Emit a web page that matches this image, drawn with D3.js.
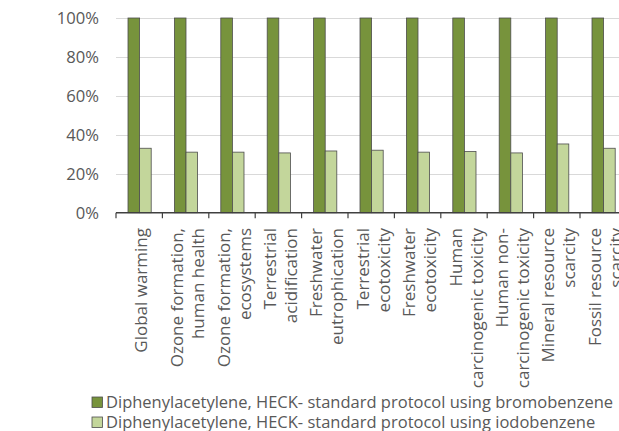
<!DOCTYPE html>
<html>
<head>
<meta charset="utf-8">
<script src="https://cdn.jsdelivr.net/npm/d3@7"></script>
<style>
  body { margin: 0; background: #fff; }
  svg { display: block; font-family: "Open Sans", sans-serif; }
</style>
</head>
<body>
<div id="chart"></div>
<script>
const categories = [
  "Global warming",
  "Ozone formation, human health",
  "Ozone formation, ecosystems",
  "Terrestrial acidification",
  "Freshwater eutrophication",
  "Terrestrial ecotoxicity",
  "Freshwater ecotoxicity",
  "Human carcinogenic toxicity",
  "Human non-carcinogenic toxicity",
  "Mineral resource scarcity",
  "Fossil resource scarcity",
];
const labelLines = [
  ["Global warming"],
  ["Ozone formation,", "human health"],
  ["Ozone formation,", "ecosystems"],
  ["Terrestrial", "acidification"],
  ["Freshwater", "eutrophication"],
  ["Terrestrial", "ecotoxicity"],
  ["Freshwater", "ecotoxicity"],
  ["Human", "carcinogenic toxicity"],
  ["Human non-", "carcinogenic toxicity"],
  ["Mineral resource", "scarcity"],
  ["Fossil resource", "scarcity"],
];
const seriesNames = [
  "Diphenylacetylene, HECK- standard protocol using bromobenzene",
  "Diphenylacetylene, HECK- standard protocol using iodobenzene",
];
const bromobenzene = [100, 100, 100, 100, 100, 100, 100, 100, 100, 100, 100];
const iodobenzene = [33.1, 31.1, 31.1, 30.7, 31.7, 32.1, 31.1, 31.4, 30.7, 35.3, 33.1];
const yTicks = [0, 20, 40, 60, 80, 100];

const colors = ["#77933c", "#c3d69b"];

const width = 619, height = 431;
const margin = { top: 18, left: 116, bottom: 218 };
const plotRight = 626.4;
const y0 = 212.7;

const svg = d3.select("#chart").append("svg")
  .attr("width", width).attr("height", height);

const x = d3.scaleBand()
  .domain(categories)
  .range([margin.left, plotRight])
  .paddingInner(0)
  .paddingOuter(0);

const y = d3.scaleLinear().domain([0, 100]).range([y0, margin.top]);

// gridlines
svg.append("g")
  .selectAll("line")
  .data(yTicks.filter((d) => d > 0))
  .join("line")
  .attr("x1", margin.left)
  .attr("x2", plotRight)
  .attr("y1", (d) => Math.round(y(d)) + 0.5)
  .attr("y2", (d) => Math.round(y(d)) + 0.5)
  .attr("stroke", "#d9d9d9")
  .attr("stroke-width", 1);

// y labels
svg.append("g")
  .selectAll("text")
  .data(yTicks)
  .join("text")
  .attr("x", 99)
  .attr("y", (d) => y(d))
  .attr("dy", "0.36em")
  .attr("text-anchor", "end")
  .attr("fill", "#595959")
  .attr("font-size", 16.6)
  .text((d) => d + "%");

// bars
const data = categories.map((c, i) => ({ c, values: [bromobenzene[i], iodobenzene[i]] }));
const groupOffset = 12;
const barW = 11.6;
const xs = d3.scaleBand().domain([0, 1]).range([groupOffset, groupOffset + barW * 2]);

svg.append("g")
  .selectAll("g")
  .data(data)
  .join("g")
  .attr("transform", (d) => `translate(${x(d.c)},0)`)
  .selectAll("rect")
  .data((d) => d.values.map((v, k) => ({ v, k })))
  .join("rect")
  .attr("x", (d) => xs(d.k))
  .attr("y", (d) => y(d.v))
  .attr("width", xs.bandwidth())
  .attr("height", (d) => y0 - y(d.v))
  .attr("fill", (d) => colors[d.k])
  .attr("stroke", "#4d4d4d")
  .attr("stroke-width", 0.8);

// x axis
const gx = svg.append("g").attr("transform", `translate(0,${y0})`);
gx.append("line")
  .attr("x1", margin.left).attr("x2", plotRight)
  .attr("stroke", "#404040").attr("stroke-width", 1.5);
gx.selectAll("line.tick")
  .data(d3.range(categories.length + 1))
  .join("line")
  .attr("class", "tick")
  .attr("x1", (i) => margin.left + i * x.step())
  .attr("x2", (i) => margin.left + i * x.step())
  .attr("y1", 0).attr("y2", 5.5)
  .attr("stroke", "#404040").attr("stroke-width", 1.2);

// x labels
const lineH = 21;
svg.append("g")
  .selectAll("g")
  .data(categories)
  .join("g")
  .attr("transform", (d) => `translate(${x(d) + x.bandwidth() / 2 + 2},228) rotate(-90)`)
  .each(function (d, i) {
    const lines = labelLines[i];
    const n = lines.length;
    d3.select(this)
      .selectAll("text")
      .data(lines)
      .join("text")
      .attr("x", 0)
      .attr("y", (t, j) => (j - (n - 1) / 2) * lineH)
      .attr("dy", "0.36em")
      .attr("text-anchor", "end")
      .attr("fill", "#595959")
      .attr("font-size", 17)
      .text((t) => t);
  });

// legend
const legend = svg.append("g")
  .selectAll("g")
  .data(seriesNames)
  .join("g")
  .attr("transform", (d, i) => `translate(92,${397 + i * 20})`);
legend.append("rect")
  .attr("width", 10.5).attr("height", 10.5)
  .attr("fill", (d, i) => colors[i])
  .attr("stroke", "#4d4d4d").attr("stroke-width", 0.8);
legend.append("text")
  .attr("x", 14)
  .attr("y", 5.5)
  .attr("dy", "0.36em")
  .attr("fill", "#595959")
  .attr("font-size", 16.5)
  .text((d) => d);
</script>
</body>
</html>
